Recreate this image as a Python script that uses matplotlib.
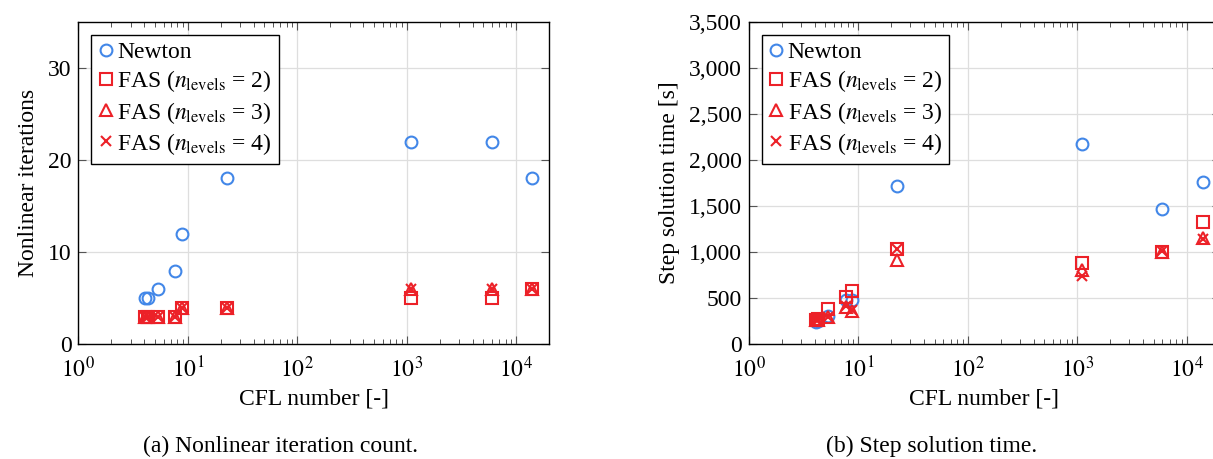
import numpy as np
import matplotlib.pyplot as plt
import matplotlib as mpl
from matplotlib.ticker import LogLocator, FuncFormatter, MultipleLocator, NullFormatter

BLUE = "#4287e8"
RED = "#ec2128"
GRID = "#dedede"

mpl.rcParams.update({
    "font.family": "serif",
    "font.serif": ["Liberation Serif", "DejaVu Serif"],
    "mathtext.fontset": "stix",
    "font.size": 17,
    "axes.linewidth": 1.0,
    "xtick.direction": "in",
    "ytick.direction": "in",
    "xtick.top": True,
    "ytick.right": True,
})

# CFL numbers (shared by all series)
cfl = [4.1, 4.3, 5.3, 7.7, 8.8, 22.6, 1100, 6000, 14000]

# (a) nonlinear iterations
iters_newton = [5, 5, 6, 8, 12, 18, 22, 22, 18]
iters_fas2 = [3, 3, 3, 3, 4, 4, 5, 5, 6]
iters_fas3 = [3, 3, 3, 3, 4, 4, 6, 6, 6]
iters_fas4 = [3, 3, 3, 3, 4, 4, 6, 6, 6]

# (b) step solution time [s]
time_newton = [240, 250, 305, 485, 480, 1720, 2178, 1464, 1765]
time_fas2 = [270, 275, 385, 520, 580, 1040, 888, 1007, 1333]
time_fas3 = [265, 270, 300, 410, 360, 915, 808, 1005, 1153]
time_fas4 = [260, 268, 295, 420, 370, 1030, 743, 1010, 1145]

labels = ["Newton",
          r"FAS ($n_{\mathrm{levels}}$ = 2)",
          r"FAS ($n_{\mathrm{levels}}$ = 3)",
          r"FAS ($n_{\mathrm{levels}}$ = 4)"]


def draw(ax, series):
    styles = [("o", BLUE, 8.5), ("s", RED, 8.5), ("^", RED, 8.0), ("x", RED, 6.5)]
    for vals, (m, c, ms), lab in zip(series, styles, labels):
        ax.plot(cfl, vals, linestyle="none", marker=m, markersize=ms,
                markerfacecolor="none" if m != "x" else c, markeredgecolor=c,
                markeredgewidth=1.5, label=lab)
    ax.set_xscale("log")
    ax.set_xlim(1, 2e4)
    ax.xaxis.set_major_locator(LogLocator(base=10, numticks=10))
    ax.xaxis.set_minor_locator(LogLocator(base=10, subs=np.arange(2, 10), numticks=10))
    ax.xaxis.set_minor_formatter(NullFormatter())
    ax.xaxis.set_major_formatter(FuncFormatter(lambda v, p: r"$10^{%d}$" % round(np.log10(v))))
    ax.tick_params(which="major", length=6, width=0.8, color="#555555", labelsize=17)
    ax.tick_params(axis="x", which="major", pad=9)
    ax.tick_params(axis="y", which="major", pad=5)
    ax.tick_params(which="minor", length=3.5, width=0.7, color="#555555")
    ax.grid(True, which="major", color=GRID, linewidth=0.9)
    ax.set_axisbelow(True)
    ax.set_xlabel("CFL number [-]", fontsize=17, labelpad=4)
    leg = ax.legend(loc="upper left", frameon=True, fancybox=False, framealpha=1,
                    edgecolor="black", fontsize=17, handlelength=0.6, handletextpad=0.2,
                    borderpad=0.3, labelspacing=0.22, borderaxespad=0.55)
    leg.get_frame().set_linewidth(1.0)


fig = plt.figure(figsize=(12.13, 4.59), dpi=100)

ax1 = fig.add_axes([0.0646, 0.2495, 0.3883, 0.7033])
draw(ax1, [iters_newton, iters_fas2, iters_fas3, iters_fas4])
ax1.set_ylim(0, 35)
ax1.yaxis.set_major_locator(MultipleLocator(10))
ax1.set_ylabel("Nonlinear iterations", fontsize=17, labelpad=6)

ax2 = fig.add_axes([0.6172, 0.2495, 0.3883, 0.7033])
draw(ax2, [time_newton, time_fas2, time_fas3, time_fas4])
ax2.set_ylim(0, 3500)
ax2.yaxis.set_major_locator(MultipleLocator(500))
ax2.yaxis.set_major_formatter(FuncFormatter(lambda v, p: f"{v:,.0f}"))
ax2.set_ylabel("Step solution time [s]", fontsize=17, labelpad=6)

fig.text(0.231, 0.028, "(a) Nonlinear iteration count.", ha="center", va="center", fontsize=17)
fig.text(0.768, 0.028, "(b) Step solution time.", ha="center", va="center", fontsize=17)

fig.savefig("out.png", dpi=100)
